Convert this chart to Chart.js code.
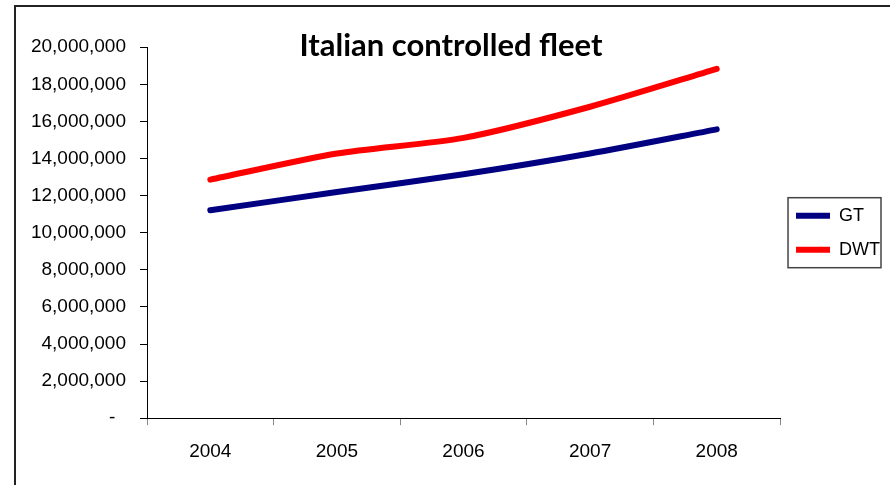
<!DOCTYPE html>
<html>
<head>
<meta charset="utf-8">
<script src="https://cdn.jsdelivr.net/npm/chart.js@4/dist/chart.umd.min.js"></script>
<style>
  html, body { margin: 0; padding: 0; background: #fff; overflow: hidden; }
  .wrap { position: relative; width: 890px; height: 485px; }
  .frame { position: absolute; left: 14px; top: 5px; width: 900px; height: 500px;
           border-left: 2px solid #222; border-top: 2px solid #222; }
  #fleetChart { position: absolute; left: 0; top: 0; }
</style>
</head>
<body>
<div class="wrap">
  <div class="frame"></div>
  <canvas id="fleetChart" width="890" height="485"></canvas>
</div>
<script>
const years = ['2004', '2005', '2006', '2007', '2008'];
const gtValues  = [11210000, 12190000, 13150000, 14270000, 15570000];
const dwtValues = [12860000, 14270000, 15110000, 16790000, 18830000];
const yMin = 0, yMax = 20000000, yStep = 2000000;

const FONT = '"Liberation Sans", Arial, sans-serif';

// outline around the legend entries
const legendFrame = {
    id: 'legendFrame',
    afterDraw(chart) {
        const boxes = chart.legend?.legendHitBoxes;
        if (!boxes || !boxes.length) return;
        const first = boxes[0], last = boxes[boxes.length - 1];
        const left = Math.min(...boxes.map(b => b.left)) - 8;
        const right = Math.max(...boxes.map(b => b.left + b.width)) + 1;
        const top = first.top - 9, bottom = last.top + last.height + 9;
        const ctx = chart.ctx;
        ctx.save();
        ctx.strokeStyle = '#444';
        ctx.lineWidth = 1.5;
        ctx.strokeRect(left, top, right - left, bottom - top);
        ctx.restore();
    }
};

new Chart(document.getElementById('fleetChart'), {
    type: 'line',
    data: {
        labels: years,
        datasets: [
            { label: 'GT',  data: gtValues,  borderColor: '#000080', backgroundColor: '#000080',
              borderWidth: 6, borderCapStyle: 'round', borderJoinStyle: 'round', tension: 0.25, pointRadius: 0 },
            { label: 'DWT', data: dwtValues, borderColor: '#ff0000', backgroundColor: '#ff0000',
              borderWidth: 6, borderCapStyle: 'round', borderJoinStyle: 'round', tension: 0.25, pointRadius: 0 }
        ]
    },
    options: {
        responsive: false,
        animation: false,
        layout: { padding: { left: 12, right: 0, top: 0, bottom: 7 } },
        plugins: {
            title: {
                display: true,
                text: 'Italian controlled fleet',
                color: '#000',
                font: { family: 'Lato, "Open Sans", sans-serif', size: 31, weight: 'bold' },
                padding: { top: 27, bottom: -17 }
            },
            legend: {
                position: 'right',
                fullSize: false,
                labels: {
                    usePointStyle: true, pointStyle: 'line', pointStyleWidth: 34,
                    color: '#000', padding: 16,
                    font: { family: FONT, size: 18 }
                }
            },
            tooltip: { enabled: false }
        },
        scales: {
            x: {
                offset: true,
                grid: { drawOnChartArea: false, tickLength: 7, color: '#888', offset: true },
                border: { color: '#000', width: 1 },
                ticks: { color: '#000', padding: 15, font: { family: FONT, size: 19 } }
            },
            y: {
                min: yMin, max: yMax,
                afterFit(scale) { scale.width = 135; },
                grid: { drawOnChartArea: false, tickLength: 7, color: '#000' },
                border: { color: '#000', width: 1 },
                ticks: {
                    stepSize: yStep, color: '#000', padding: 14,
                    font: { family: FONT, size: 19 },
                    callback: v => v === 0 ? '-  ' : v.toLocaleString('en-US')
                }
            }
        }
    },
    plugins: [legendFrame]
});
</script>
</body>
</html>
